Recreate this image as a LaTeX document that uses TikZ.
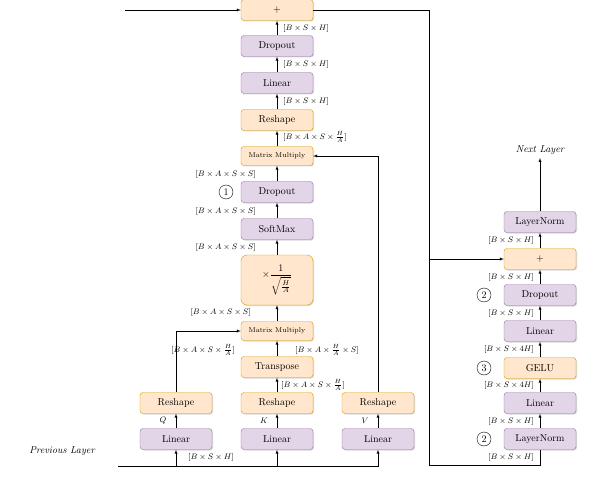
\documentclass[tikz,border=0pt]{standalone}
\usetikzlibrary{shadows}
\definecolor{pfill}{HTML}{E1D5E7}\definecolor{pdraw}{HTML}{9673A6}
\definecolor{ofill}{HTML}{FFE6CC}\definecolor{odraw}{HTML}{D79B00}
\begin{document}
\begin{tikzpicture}[x=1pt,y=-1pt,>=latex,
  box/.style={rounded corners=3pt,minimum width=72pt,minimum height=21pt,inner sep=1pt,drop shadow={opacity=0.3,shadow xshift=1pt,shadow yshift=-1pt},font=\normalsize},
  pbox/.style={box,fill=pfill,draw=pdraw},
  obox/.style={box,fill=ofill,draw=odraw},
  dim/.style={font=\footnotesize,inner sep=1pt},
  num/.style={circle,draw,inner sep=0.5pt,minimum size=14pt,font=\normalsize}]
\useasboundingbox (0,0) rectangle (608,500);
% attention column
\node[obox] (add1) at (277,10) {$+$};
\node[pbox] (drop2) at (277,46) {Dropout};
\node[pbox] (lin4) at (277,83) {Linear};
\node[obox] (resh4) at (277,120) {Reshape};
\node[obox,minimum height=19pt,font=\scriptsize] (mm2) at (277,156) {Matrix Multiply};
\node[pbox] (drop1) at (277,192) {Dropout};
\node[pbox] (soft) at (277,229) {SoftMax};
\node[obox,minimum height=50pt,rounded corners=6pt] (scale) at (277,280) {$\displaystyle\times\frac{1}{\sqrt{\frac{H}{A}}}$};
\node[obox,minimum height=19pt,font=\scriptsize] (mm1) at (277,331) {Matrix Multiply};
\node[obox] (trans) at (277,367) {Transpose};
\node[obox] (reshQ) at (176,403) {Reshape};
\node[obox] (reshK) at (277,403) {Reshape};
\node[obox] (reshV) at (378,403) {Reshape};
\node[pbox] (linQ) at (176,439) {Linear};
\node[pbox] (linK) at (277,439) {Linear};
\node[pbox] (linV) at (378,439) {Linear};
\node[num] (c1) at (226,192) {1};
% feed-forward column
\node[pbox] (ln2) at (540,222) {LayerNorm};
\node[obox] (add2) at (540,259) {$+$};
\node[pbox] (drop3) at (540,295) {Dropout};
\node[pbox] (lin6) at (540,331) {Linear};
\node[obox] (gelu) at (540,368) {GELU};
\node[pbox] (lin5) at (540,403) {Linear};
\node[pbox] (ln1) at (540,439) {LayerNorm};
\node[num] (c2) at (484,295) {2};
\node[num] (c3) at (484,368) {3};
\node[num] (c4) at (484,439) {2};
\node[font=\normalsize\itshape] (next) at (540,150) {Next Layer};
\node[font=\normalsize\itshape] (prev) at (62,451) {Previous Layer};
% coordinates
\coordinate (in) at (125,10);
\coordinate (bl) at (118,466);
\coordinate (c) at (429,10);
\coordinate (d) at (429,465);
\coordinate (e) at (429,259);
% connectors
\draw[->] (in) -- (add1);
\foreach \a/\b in {drop2/add1,lin4/drop2,resh4/lin4,mm2/resh4,drop1/mm2,soft/drop1,scale/soft,mm1/scale,trans/mm1,reshK/trans,linQ/reshQ,linK/reshK,linV/reshV,ln1/lin5,lin5/gelu,gelu/lin6,lin6/drop3,drop3/add2,add2/ln2}
  \draw[->] (\a) -- (\b);
\draw[->] (ln2) -- (next);
\draw[->] (reshQ.north) |- (mm1.west);
\draw[->] (reshV.north) |- (mm2.east);
\draw[->] (bl) -| (linV.south);
\draw[->] (linQ.south |- bl) -- (linQ.south);
\draw[->] (linK.south |- bl) -- (linK.south);
\draw (add1.east) -- (c) -- (d) -| (ln1.south);
\draw[->] (e) -- (add2.west);
% shapes
\node[dim,anchor=west] at (282,29) {$[B\times S\times H]$};
\node[dim,anchor=west] at (282,65) {$[B\times S\times H]$};
\node[dim,anchor=west] at (282,102) {$[B\times S\times H]$};
\node[dim,anchor=west] at (282,137) {$[B\times A\times S\times \frac{H}{A}]$};
\node[dim,anchor=east] at (257,174) {$[B\times A\times S\times S]$};
\node[dim,anchor=east] at (257,211) {$[B\times A\times S\times S]$};
\node[dim,anchor=east] at (257,247) {$[B\times A\times S\times S]$};
\node[dim,anchor=east] at (252,312) {$[B\times A\times S\times S]$};
\node[dim,anchor=east] at (236,350) {$[B\times A\times S\times \frac{H}{A}]$};
\node[dim,anchor=west] at (294,350) {$[B\times A\times \frac{H}{A}\times S]$};
\node[dim,anchor=west] at (280,385) {$[B\times A\times S\times \frac{H}{A}]$};
\node[dim] at (163,421) {$Q$};
\node[dim] at (264,421) {$K$};
\node[dim] at (365,421) {$V$};
\node[dim,anchor=west] at (187,457) {$[B\times S\times H]$};
\foreach \y/\t in {240/H,277/H,313/H,349/4H,385/4H,421/H,457/H}
  \node[dim,anchor=east] at (535,\y) {$[B\times S\times \t]$};
\end{tikzpicture}
\end{document}
